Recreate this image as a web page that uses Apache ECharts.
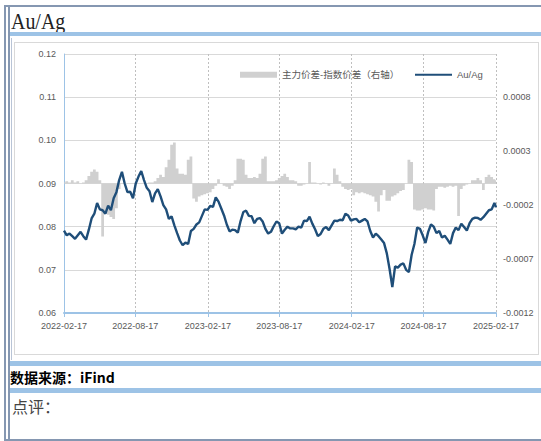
<!DOCTYPE html>
<html>
<head>
<meta charset="utf-8">
<script src="https://cdn.jsdelivr.net/npm/echarts@6/dist/echarts.min.js"></script>
<style>
  html, body { margin: 0; padding: 0; background: #fff; }
  #wrap { position: relative; width: 541px; height: 441px; overflow: hidden; background: #fff; }
  .abs { position: absolute; }
  #chart { position: absolute; left: 0; top: 0; width: 541px; height: 441px; }
</style>
</head>
<body>
<div id="wrap">
  <div class="abs" style="left:4px;top:5px;width:537px;height:2px;background:#8597b1"></div>
  <div class="abs" style="left:4px;top:5px;width:2px;height:436px;background:#8597b1"></div>
  <div class="abs" style="left:8px;top:5px;width:2px;height:436px;background:#8597b1"></div>
  <div class="abs" style="left:11px;top:38px;width:1px;height:322px;background:#b9c4d6"></div>
  <div class="abs" style="left:11px;top:9px;font-family:'Liberation Serif',serif;font-size:24px;line-height:24px;color:#222;transform:scaleX(0.83);transform-origin:left top;white-space:nowrap">Au/Ag</div>
  <div class="abs" style="left:10px;top:32px;width:531px;height:4px;background:#9dc3e6"></div>
  <div class="abs" style="left:14px;top:42px;width:523px;height:311px;border:1px solid #d9d9d9"></div>
  <div class="abs" style="left:10px;top:361px;width:531px;height:5px;background:#9dc3e6"></div>
  <div class="abs" style="left:10px;top:370px;font-family:'Noto Sans CJK SC',sans-serif;font-weight:bold;font-size:14px;line-height:14px;color:#000;white-space:nowrap">数据来源：iFind</div>
  <div class="abs" style="left:10px;top:388px;width:531px;height:5px;background:#9dc3e6"></div>
  <div class="abs" style="left:12px;top:398px;font-family:'Noto Sans CJK SC',sans-serif;font-size:16px;line-height:16px;color:#444;white-space:nowrap">点评：</div>
  <div class="abs" style="left:4px;top:439px;width:537px;height:2px;background:#8597b1"></div>
  <div id="chart"></div>
</div>
<script>
const dates = [
  '2022-02-17','2022-02-24','2022-03-03','2022-03-10','2022-03-17','2022-03-24','2022-03-31','2022-04-07','2022-04-14','2022-04-21',
  '2022-04-28','2022-05-05','2022-05-12','2022-05-19','2022-05-26','2022-06-02','2022-06-09','2022-06-16','2022-06-23','2022-06-30',
  '2022-07-07','2022-07-14','2022-07-21','2022-07-28','2022-08-04','2022-08-11','2022-08-18','2022-08-25','2022-09-01','2022-09-08',
  '2022-09-15','2022-09-22','2022-09-29','2022-10-06','2022-10-13','2022-10-20','2022-10-27','2022-11-03','2022-11-10','2022-11-17',
  '2022-11-24','2022-12-01','2022-12-08','2022-12-15','2022-12-22','2022-12-29',
  '2023-01-05','2023-01-12','2023-01-19','2023-01-26','2023-02-02','2023-02-09','2023-02-16','2023-02-23','2023-03-02','2023-03-09',
  '2023-03-16','2023-03-23','2023-03-30','2023-04-06','2023-04-13','2023-04-20','2023-04-27','2023-05-04','2023-05-11','2023-05-18',
  '2023-05-25','2023-06-01','2023-06-08','2023-06-15','2023-06-22','2023-06-29','2023-07-06','2023-07-13','2023-07-20','2023-07-27',
  '2023-08-03','2023-08-10','2023-08-17','2023-08-24','2023-08-31','2023-09-07','2023-09-14','2023-09-21','2023-09-28','2023-10-05',
  '2023-10-12','2023-10-19','2023-10-26','2023-11-02','2023-11-09','2023-11-16','2023-11-23','2023-11-30','2023-12-07','2023-12-14',
  '2023-12-21','2023-12-28',
  '2024-01-04','2024-01-11','2024-01-18','2024-01-25','2024-02-01','2024-02-08','2024-02-15','2024-02-22','2024-02-29','2024-03-07',
  '2024-03-14','2024-03-21','2024-03-28','2024-04-04','2024-04-11','2024-04-18','2024-04-25','2024-05-02','2024-05-09','2024-05-16',
  '2024-05-23','2024-05-30','2024-06-06','2024-06-13','2024-06-20','2024-06-27','2024-07-04','2024-07-11','2024-07-18','2024-07-25',
  '2024-08-01','2024-08-08','2024-08-15','2024-08-22','2024-08-29','2024-09-05','2024-09-12','2024-09-19','2024-09-26','2024-10-03',
  '2024-10-10','2024-10-17','2024-10-24','2024-10-31','2024-11-07','2024-11-14','2024-11-21','2024-11-28','2024-12-05','2024-12-12',
  '2024-12-19','2024-12-26',
  '2025-01-02','2025-01-09','2025-01-16','2025-01-23','2025-01-30','2025-02-06','2025-02-13','2025-02-17'
];

const auag = [
  0.0791,0.0780,0.0784,0.0778,0.0772,0.0780,0.0788,0.0778,0.0770,0.0793,
  0.0819,0.0830,0.0855,0.0840,0.0838,0.0830,0.0849,0.0838,0.0866,0.0880,
  0.0908,0.0927,0.0900,0.0880,0.0881,0.0866,0.0900,0.0916,0.0929,0.0908,
  0.0890,0.0882,0.0857,0.0877,0.0887,0.0870,0.0850,0.0840,0.0818,0.0824,
  0.0803,0.0785,0.0768,0.0757,0.0763,0.0760,0.0790,0.0795,0.0805,0.0810,
  0.0825,0.0840,0.0839,0.0848,0.0846,0.0868,0.0858,0.0842,0.0826,0.0805,
  0.0789,0.0793,0.0792,0.0786,0.0813,0.0834,0.0837,0.0825,0.0824,0.0808,
  0.0818,0.0820,0.0812,0.0795,0.0784,0.0788,0.0801,0.0812,0.0808,0.0784,
  0.0793,0.0800,0.0796,0.0796,0.0794,0.0800,0.0798,0.0814,0.0813,0.0823,
  0.0807,0.0794,0.0778,0.0783,0.0795,0.0799,0.0792,0.0803,0.0814,0.0813,
  0.0816,0.0815,0.0830,0.0826,0.0814,0.0817,0.0818,0.0810,0.0814,0.0818,
  0.0812,0.0790,0.0775,0.0784,0.0778,0.0770,0.0762,0.0738,0.0702,0.0660,
  0.0708,0.0705,0.0712,0.0715,0.0700,0.0695,0.0735,0.0760,0.0798,0.0795,
  0.0780,0.0762,0.0788,0.0805,0.0800,0.0785,0.0790,0.0775,0.0779,0.0770,
  0.0760,0.0785,0.0798,0.0792,0.0807,0.0799,0.0791,0.0808,0.0818,0.0821,
  0.0820,0.0816,0.0822,0.0830,0.0838,0.0840,0.0855,0.0845
];

const spread = [
  0.00001,0.00002,0.00001,0.00003,0.00001,0.00002,0,0.00001,0.00003,0.00007,
  0.00011,0.00013,0.00011,0.00003,-0.00049,-0.00028,-0.00029,-0.00031,-0.00033,-0.00023,
  -0.00005,0,0,0,0,0,0,0,0,0,
  0,0.00001,0.00001,0.00002,0.00005,0.00008,0.00006,0.00015,0.00022,0.00036,
  0.00038,0.00014,0.00009,0.00009,0.00008,0.00022,0.00025,-0.00014,-0.00017,-0.00012,
  -0.00011,-0.00010,-0.00009,-0.00008,-0.00005,-0.00002,0.00004,0,-0.00002,-0.00003,
  -0.00005,-0.00002,0.00003,0.00023,0.00023,0.00022,0.00008,0.00005,0.00005,0.00006,
  0.00005,0.00009,0.00023,0.00025,0.00002,0.00002,0.00002,0.00003,0.00005,0.00007,
  0.00009,0.00006,0.00003,0.00003,0.00002,-0.00002,-0.00002,-0.00001,0,0.00020,
  0.00001,0.00001,0,-0.00001,0.00001,0,-0.00002,0,0.00014,0.00008,
  0.00002,-0.00003,-0.00005,-0.00006,-0.00005,-0.00011,-0.00008,-0.00009,-0.00008,-0.00009,
  -0.00010,-0.00011,-0.00012,-0.00017,-0.00026,-0.00011,-0.00006,-0.00016,-0.00016,-0.00012,
  -0.00011,-0.00009,-0.00007,-0.00006,0,0.00022,0.00020,-0.00024,-0.00025,-0.00025,
  -0.00024,-0.00023,-0.00024,-0.00024,-0.00025,-0.00005,-0.00003,-0.00003,-0.00004,-0.00003,
  -0.00002,-0.00003,-0.00002,-0.00030,-0.00005,-0.00002,-0.00001,0,0.00003,0.00003,
  0.00005,0.00003,-0.00006,0.00006,0.00008,0.00006,0.00004,0.00003
];

const xTickLabels = ['2022-02-17','2022-08-17','2023-02-17','2023-08-17','2024-02-17','2024-08-17','2025-02-17'];
const leftTicks = [0.06, 0.07, 0.08, 0.09, 0.10, 0.11, 0.12];
const rightTicks = [-0.0012, -0.0007, -0.0002, 0.0003, 0.0008];
const seriesNames = ['主力价差-指数价差（右轴）', 'Au/Ag'];

// days since first date (UTC-based, to avoid timezone issues)
function dayNum(s) {
  const p = s.split('-').map(Number);
  return Date.UTC(p[0], p[1] - 1, p[2]) / 86400000;
}
const day0 = dayNum(xTickLabels[0]);
const xTickDays = xTickLabels.map(function (s) { return dayNum(s) - day0; });
const labelFont = "'Liberation Sans', 'Noto Sans CJK SC', sans-serif";
const legendText = { fontSize: 9.5, color: '#595959', fontFamily: labelFont };

const chart = echarts.init(document.getElementById('chart'), null, { renderer: 'svg' });
chart.setOption({
  animation: false,
  backgroundColor: 'transparent',
  grid: { left: 64, right: 45, top: 54, bottom: 128, containLabel: false, outerBoundsMode: 'none' },
  legend: [
    {
      left: 240, top: 70, padding: 0, itemWidth: 37, itemHeight: 6,
      selectedMode: false, textStyle: legendText,
      data: [{ name: seriesNames[0], icon: 'rect', itemStyle: { color: '#d0d0d0' } }]
    },
    {
      left: 415, top: 70, padding: 0, itemWidth: 37, itemHeight: 2,
      selectedMode: false, textStyle: legendText,
      data: [{ name: seriesNames[1], icon: 'rect', itemStyle: { color: '#1f4e79' } }]
    }
  ],
  xAxis: {
    type: 'value',
    min: xTickDays[0],
    max: xTickDays[xTickDays.length - 1],
    axisLine: { show: true, onZero: false, lineStyle: { color: '#9dc3e6', width: 2 } },
    axisTick: { show: true, length: 4, lineStyle: { color: '#9dc3e6', width: 1 }, customValues: xTickDays },
    axisLabel: {
      customValues: xTickDays,
      color: '#595959', fontSize: 9, margin: 8, fontFamily: labelFont,
      hideOverlap: false, showMinLabel: true, showMaxLabel: true,
      formatter: function (v) {
        let best = 0, bd = Infinity;
        xTickDays.forEach(function (t, i) { const d = Math.abs(t - v); if (d < bd) { bd = d; best = i; } });
        return xTickLabels[best];
      }
    },
    splitLine: { show: true, lineStyle: { color: '#bfbfbf', type: [2, 2], width: 1 } }
  },
  yAxis: [
    {
      type: 'value', position: 'left',
      min: leftTicks[0], max: leftTicks[leftTicks.length - 1],
      axisLine: { show: true, lineStyle: { color: '#9dc3e6', width: 1 } },
      axisTick: { show: false, customValues: leftTicks },
      axisLabel: {
        customValues: leftTicks,
        color: '#595959', fontSize: 9, margin: 8, fontFamily: labelFont,
        formatter: function (v) { return v.toFixed(2); }
      },
      splitLine: { show: true, lineStyle: { color: '#d9d9d9', width: 1 } }
    },
    {
      type: 'value', position: 'right',
      min: -0.0012, max: 0.0012,
      axisLine: { show: false },
      axisTick: { show: false },
      axisLabel: {
        customValues: rightTicks,
        color: '#595959', fontSize: 9, margin: 7, fontFamily: labelFont,
        formatter: function (v) { return v.toFixed(4); }
      },
      splitLine: { show: false }
    }
  ],
  series: [
    {
      name: seriesNames[0], type: 'line', yAxisIndex: 1,
      data: dates.map(function (d, i) { return [dayNum(d) - day0, spread[i]]; }),
      symbol: 'none', step: 'middle',
      lineStyle: { width: 0, opacity: 0 },
      itemStyle: { color: '#d0d0d0' },
      areaStyle: { color: '#d0d0d0', opacity: 1 },
      z: 1, silent: true
    },
    {
      name: seriesNames[1], type: 'line', yAxisIndex: 0,
      data: dates.map(function (d, i) { return [dayNum(d) - day0, auag[i]]; }),
      symbol: 'none',
      lineStyle: { color: '#1f4e79', width: 2.4 },
      itemStyle: { color: '#1f4e79' },
      z: 3
    }
  ]
});
</script>
</body>
</html>
